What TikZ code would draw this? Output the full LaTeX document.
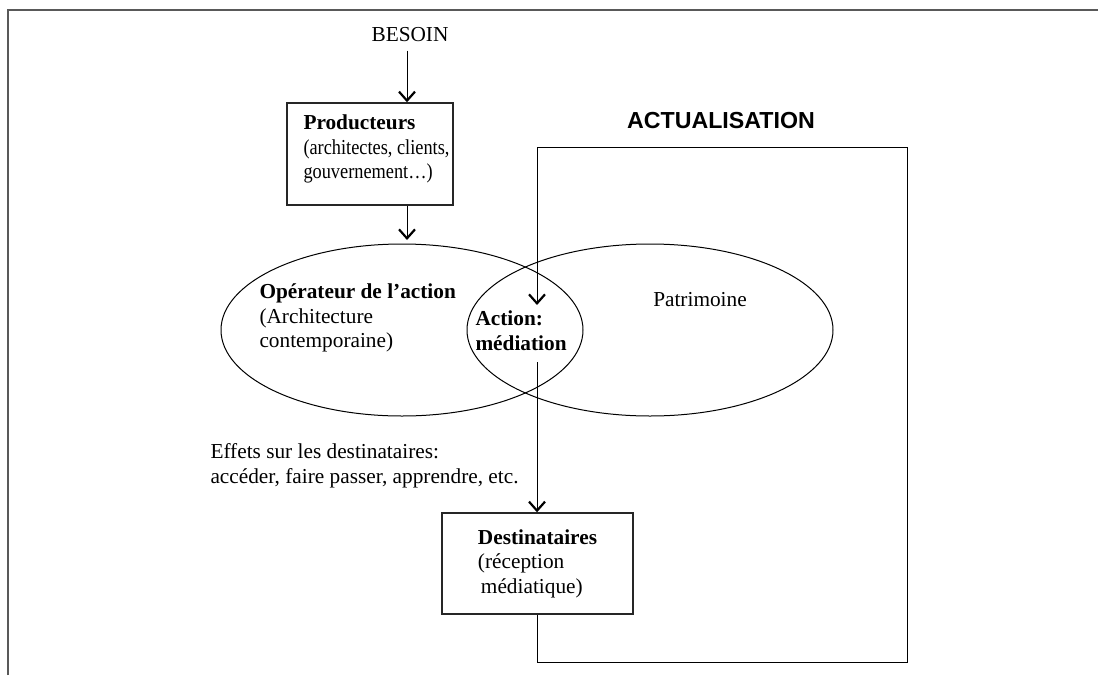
\documentclass[tikz,border=0pt]{standalone}
\usepackage{fontspec}
\setmainfont{Liberation Serif}
\newfontfamily\actufont{Liberation Sans}
\newfontfamily\serree[FakeStretch=0.86]{Liberation Serif}
\usetikzlibrary{arrows.meta,shapes.geometric}

\begin{document}
\begin{tikzpicture}[
                x=0.5pt, y=-0.5pt,
                every node/.style={
                  font=\fontsize{10.65}{12.3}\selectfont,
                  inner sep=0pt,
                },
                boite/.style={
                  draw=black!85,
                  line width=0.7pt,
                  rectangle,
                  align=left,
                },
                bulle/.style={
                  draw,
                  line width=0.5pt,
                  ellipse,
                },
                line width=0.5pt,
                >={Straight Barb[length=4.5pt,width=8pt,line width=1.1pt]},
              ]
              \useasboundingbox (0,0) rectangle (1098,675) ;
              \draw[black!65, line width=0.9pt] (8,675) -- (8,10) -- (1098,10) ;
              % haut
              \node at (410,35) (besoin) {BESOIN} ;
              \node[boite, minimum width=83pt, minimum height=51pt] at (370,154) (prod) {} ;
              \node[anchor=west, align=left] at (303,149) (prodtxt)
                {\textbf{Producteurs}\\{\serree (architectes, clients,}\\{\serree gouvernement…)}} ;
              \node[font=\actufont\bfseries\fontsize{11.6}{14}\selectfont] at (721,121) (actu) {ACTUALISATION} ;
              % ellipses
              \node[bulle, minimum width=181pt, minimum height=86pt] at (402,330) (operell) {} ;
              \node[bulle, minimum width=183pt, minimum height=86pt] at (650,330) (patrell) {} ;
              \node[anchor=west, align=left] at (259,318) (oper)
                {\textbf{Opérateur de l’action}\\(Architecture\\contemporaine)} ;
              \node at (700,300) (patri) {Patrimoine} ;
              \node[anchor=west, align=left, font=\bfseries\fontsize{10.65}{12.3}\selectfont] at (475,331) (medi)
                {Action:\\médiation} ;
              % bas
              \node[anchor=west, align=left] at (210,466) (effets)
                {Effets sur les destinataires:\\accéder, faire passer, apprendre, etc.} ;
              \node[boite, minimum width=95.5pt, minimum height=50.5pt] at (537.5,563.5) (dest)
                {\textbf{Destinataires}\\(réception\\\hspace{1.5pt}médiatique)} ;
              \coordinate (looptl) at (537,147) ;
              \coordinate (looptr) at (907,147) ;
              \coordinate (loopbr) at (907,662) ;
              \coordinate (loopbl) at (537,662) ;
              \coordinate (medin) at (537,305) ;
              \coordinate (medout) at (537,362) ;
              \draw[->] ([yshift=-4pt]besoin.south -| 407,0) -- (prod.north -| 407,0) ;
              \draw[->] (prod.south -| 407,0) -- (407,240) ;
              \draw[->] (dest.south -| loopbl) -- (loopbl) -- (loopbr) -- (looptr) -- (looptl) -- (medin) ;
              \draw[->] (medout) -- (dest.north -| medout) ;
              \end{tikzpicture}
\end{document}
